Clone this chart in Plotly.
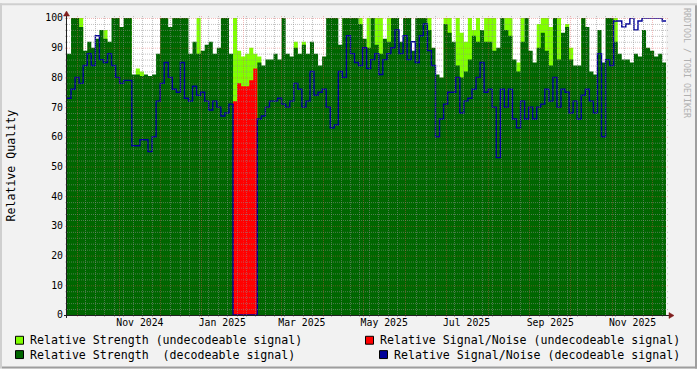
import plotly.graph_objects as go
import pandas as pd
import math

# ---------------- data (3-day samples starting 2024-09-23) ----------------
start_date = "2024-09-23"
span_days = 443.77
step_days = 3

strength_decodeable = [
    88, 100, 100, 97, 89, 92, 90, 93, 96, 93,
    92, 100, 100, 97, 100, 100, 81, 81, 80.5, 81,
    80.5, 81, 88, 100, 100, 97, 100, 100, 100, 100,
    88, 92, 88, 89, 91, 92, 88, 90, 100, 100,
    88, 0, 0, 0, 0, 0, 0, 85, 84, 86,
    86, 88, 86, 100, 88, 87, 90, 88, 91, 88,
    92, 88, 84, 87, 100, 100, 100, 91, 100, 100,
    100, 100, 98, 93, 90, 100, 91, 88, 93, 92,
    100, 100, 92, 100, 100, 89, 100, 100, 100, 96,
    90, 81, 80, 98, 95, 92, 84, 80, 82, 86,
    94, 92, 96, 92, 92, 89, 90, 100, 96, 94,
    86, 82, 92, 100, 89, 85, 90, 95, 89, 84,
    100, 86, 95, 97, 86, 84, 84, 100, 97, 82,
    81, 96, 85, 100, 100, 92, 88, 86, 86, 85,
    88, 87, 96, 90, 89, 87, 88, 85,
]

strength_undecodeable = [
    0, 0, 0, 100, 0, 0, 0, 0, 0, 96,
    0, 0, 0, 0, 0, 100, 0, 83, 82, 0,
    0, 0, 0, 0, 0, 0, 0, 0, 0, 0,
    0, 0, 100, 0, 0, 0, 0, 0, 0, 0,
    0, 100, 89, 87, 88, 90, 88, 87, 0, 0,
    0, 0, 0, 0, 0, 0, 92, 0, 92, 0,
    0, 0, 0, 0, 0, 0, 0, 0, 100, 0,
    0, 0, 100, 0, 100, 0, 100, 100, 0, 100,
    0, 0, 0, 0, 0, 0, 0, 0, 0, 100,
    0, 0, 0, 100, 100, 0, 100, 95, 92, 100,
    96, 100, 0, 100, 100, 100, 0, 0, 100, 100,
    0, 85, 100, 0, 0, 0, 98, 100, 100, 97,
    0, 100, 0, 98, 90, 0, 0, 100, 0, 0,
    0, 0, 0, 0, 0, 100, 0, 0, 0, 0,
    0, 0, 0, 0, 0, 0, 0, 0,
]

sn_undecodeable = [0] * 41 + [72, 78, 77, 77, 79, 83] + [0] * 101

sn_decodeable = [
    73, 76, 80, 78, 84, 88, 84, 94, 86, 85,
    88, 84, 80, 78, 79, 79, 57, 57, 59, 59,
    55, 60, 72, 78, 85, 80, 76, 75, 85, 73,
    72, 77, 74, 75, 72, 69, 72, 70, 67, 68,
    71, 0, 0, 0, 0, 0, 0, 66, 67, 70,
    72, 72, 73, 71, 70, 72, 78, 76, 70, 72,
    82, 74, 75, 76, 70, 63, 64, 82, 80, 94,
    88, 85, 84, 90, 83, 86, 88, 81, 86, 88,
    90, 96, 88, 94, 86, 92, 85, 94, 98, 89,
    84, 60, 66, 71, 75, 75, 80, 68, 72, 73,
    76, 80, 85, 75, 76, 70, 53, 76, 70, 76,
    66, 63, 72, 66, 70, 66, 70, 71, 76, 72,
    80, 70, 76, 75, 68, 72, 66, 74, 76, 72,
    68, 88, 60, 86, 84, 99, 99, 97, 98, 100,
    96, 99, 100, 100, 100, 100, 100, 99,
]

tick_labels = ["Nov 2024", "Jan 2025", "Mar 2025", "May 2025",
               "Jul 2025", "Sep 2025", "Nov 2025"]
tick_dates = ["2024-11-16", "2025-01-16", "2025-03-16", "2025-05-16",
              "2025-07-16", "2025-09-16", "2025-11-16"]
y_ticks = list(range(0, 101, 10))

legend_labels = [
    "Relative Strength (undecodeable signal)",
    "Relative Strength\u00a0 (decodeable signal)",
    "Relative Signal/Noise (undecodeable signal)",
    "Relative Signal/Noise (decodeable signal)",
]

# ---------------- styles ----------------
C_LIGHT = "#80FF00"
C_DARK = "#006600"
C_RED = "#FF0000"
C_BLUE = "#000099"
BACK = "#F2F2F2"
GRID = "rgba(143,143,143,0.55)"
MGRID = "rgba(222,79,79,0.4)"
ARROW = "rgb(128,31,31)"
AXIS = "#1F1F1F"
FONT = "DejaVu Sans Mono"

W, H = 697, 369
L, R, T, B = 67, 31, 15, 54
PW, PH = W - L - R, H - T - B


def px(x):
    return (x - L) / PW


def py(y):
    return (T + PH - y) / PH


start = pd.Timestamp(start_date)
end = start + pd.Timedelta(days=span_days)
n = len(strength_decodeable)
dates = [start + pd.Timedelta(days=step_days * i) for i in range(n)] + [end]


def ext(a):
    return list(a) + [a[-1]]


def snap_date(d):
    # move a grid date onto a pixel centre so the dotted line stays crisp
    days = (d - start) / pd.Timedelta(days=1)
    pix = L + days * PW / span_days
    pix = math.floor(pix) + 0.5
    return start + pd.Timedelta(days=(pix - L) * span_days / PW)


def snap_val(v):
    pix = T + PH - v * PH / 100.0
    pix = math.floor(pix) + 0.5
    return (T + PH - pix) * 100.0 / PH


fig = go.Figure()
fig.add_trace(go.Scatter(x=dates, y=ext(strength_undecodeable), mode="lines",
                         line=dict(shape="hv", width=0, color=C_LIGHT),
                         fill="tozeroy", fillcolor=C_LIGHT, hoverinfo="skip"))
fig.add_trace(go.Scatter(x=dates, y=ext(strength_decodeable), mode="lines",
                         line=dict(shape="hv", width=0, color=C_DARK),
                         fill="tozeroy", fillcolor=C_DARK, hoverinfo="skip"))
fig.add_trace(go.Scatter(x=dates, y=ext(sn_undecodeable), mode="lines",
                         line=dict(shape="hv", width=0, color=C_RED),
                         fill="tozeroy", fillcolor=C_RED, hoverinfo="skip"))
fig.add_trace(go.Scatter(x=dates, y=ext(sn_decodeable), mode="lines",
                         line=dict(shape="hv", width=1.4, color=C_BLUE),
                         hoverinfo="skip"))

shapes = []
# horizontal grid (drawn over the data, like rrdtool)
for v in range(2, 101, 2):
    col = MGRID if v % 10 == 0 else GRID
    yv = snap_val(v)
    shapes.append(dict(type="line", xref="paper", yref="y",
                       x0=px(L - 2), x1=px(L + PW + 2), y0=yv, y1=yv,
                       line=dict(color=col, width=1, dash="1px,1px"),
                       layer="above"))
# vertical grid: weekly minor, monthly major
months = list(pd.date_range(start, end, freq="MS"))
wk = start + pd.Timedelta(days=7)
while wk < end:
    if all(abs((wk - m) / pd.Timedelta(days=1)) > 1.5 for m in months):
        xs = snap_date(wk)
        shapes.append(dict(type="line", xref="x", yref="paper", x0=xs, x1=xs,
                           y0=py(T + PH + 2), y1=py(T - 2),
                           line=dict(color=GRID, width=1, dash="1px,1px"),
                           layer="above"))
    wk += pd.Timedelta(days=7)
for m in months:
    xs = snap_date(m)
    shapes.append(dict(type="line", xref="x", yref="paper", x0=xs, x1=xs,
                       y0=py(T + PH + 2), y1=py(T - 2),
                       line=dict(color=MGRID, width=1, dash="1px,1px"),
                       layer="above"))
# axes
shapes.append(dict(type="line", xref="paper", yref="paper",
                   x0=px(L - 0.5), x1=px(L - 0.5), y0=py(T + PH + 3), y1=py(T - 3),
                   line=dict(color=AXIS, width=1), layer="above"))
shapes.append(dict(type="line", xref="paper", yref="paper",
                   x0=px(L - 3), x1=px(L + PW + 3), y0=py(T + PH + 0.5), y1=py(T + PH + 0.5),
                   line=dict(color=AXIS, width=1), layer="above"))
# arrows
shapes.append(dict(type="path", xref="paper", yref="paper",
                   path=f"M {px(L - 0.5)} {py(T - 7)} L {px(L - 3.5)} {py(T - 2)} L {px(L + 2.5)} {py(T - 2)} Z",
                   fillcolor=ARROW, line=dict(color=ARROW, width=0.5), layer="above"))
shapes.append(dict(type="path", xref="paper", yref="paper",
                   path=f"M {px(L + PW + 8)} {py(T + PH + 0.5)} L {px(L + PW + 3)} {py(T + PH - 2.5)} L {px(L + PW + 3)} {py(T + PH + 3.5)} Z",
                   fillcolor=ARROW, line=dict(color=ARROW, width=0.5), layer="above"))
# frame (shade A top/left, shade B bottom/right)
shapes.append(dict(type="rect", xref="paper", yref="paper",
                   x0=px(0), x1=px(W), y0=py(0), y1=py(2),
                   fillcolor="#CFCFCF", line=dict(width=0), layer="below"))
shapes.append(dict(type="rect", xref="paper", yref="paper",
                   x0=px(0), x1=px(2), y0=py(0), y1=py(H),
                   fillcolor="#CFCFCF", line=dict(width=0), layer="below"))
shapes.append(dict(type="rect", xref="paper", yref="paper",
                   x0=px(2), x1=px(W), y0=py(H - 2), y1=py(H),
                   fillcolor="#9E9E9E", line=dict(width=0), layer="below"))
shapes.append(dict(type="rect", xref="paper", yref="paper",
                   x0=px(W - 2), x1=px(W), y0=py(2), y1=py(H),
                   fillcolor="#9E9E9E", line=dict(width=0), layer="below"))

# legend boxes + texts
legend_colors = [C_LIGHT, C_DARK, C_RED, C_BLUE]
box_x = [15, 15, 365, 379]
text_x = [30, 30, 380, 394]
row_y = [340.5, 355]
annotations = []
for k, (lab, col) in enumerate(zip(legend_labels, legend_colors)):
    yc = row_y[k % 2]
    shapes.append(dict(type="rect", xref="paper", yref="paper",
                       x0=px(box_x[k] + 0.5), x1=px(box_x[k] + 8.5),
                       y0=py(yc - 4), y1=py(yc + 4),
                       fillcolor=col, line=dict(color="#000000", width=1),
                       layer="above"))
    annotations.append(dict(text=lab, xref="paper", yref="paper",
                            x=px(text_x[k]), y=py(yc), xanchor="left",
                            yanchor="middle", showarrow=False,
                            borderpad=0, borderwidth=0,
                            font=dict(family=FONT, size=11.6, color="#000000")))

annotations.append(dict(text="Relative Quality", xref="paper", yref="paper",
                        x=px(11), y=py(164), textangle=-90, showarrow=False,
                        xanchor="center", yanchor="middle",
                        font=dict(family=FONT, size=11.6, color="#000000")))
annotations.append(dict(text="RRDTOOL / TOBI OETIKER", xref="paper", yref="paper",
                        x=px(687.5), y=py(60), textangle=90, showarrow=False,
                        xanchor="center", yanchor="middle",
                        font=dict(family=FONT, size=8.3, color="#B0B0B0")))

fig.update_layout(
    width=W, height=H,
    margin=dict(l=L, r=R, t=T, b=B, pad=0),
    paper_bgcolor=BACK, plot_bgcolor="#FFFFFF",
    showlegend=False,
    shapes=shapes, annotations=annotations,
    xaxis=dict(type="date", range=[start, end], showgrid=False, zeroline=False,
               showline=False, ticks="", tickvals=tick_dates, ticktext=tick_labels,
               tickfont=dict(family=FONT, size=9.8, color="#000000"),
               fixedrange=True),
    yaxis=dict(range=[0, 100], showgrid=False, zeroline=False, showline=False,
               ticks="", tickvals=y_ticks, ticklabelstandoff=3,
               tickfont=dict(family=FONT, size=9.8, color="#000000"),
               fixedrange=True),
)

fig.write_html("out.html", config={"displayModeBar": False})
